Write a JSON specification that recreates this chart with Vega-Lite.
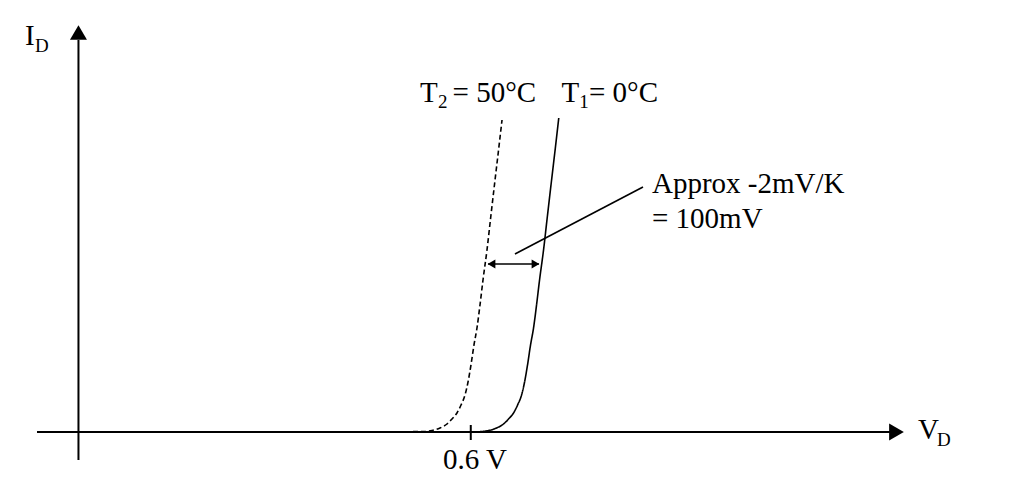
{
  "$schema": "https://vega.github.io/schema/vega-lite/v6.json",
  "width": 1020,
  "height": 482,
  "autosize": {"type": "none"},
  "padding": 0,
  "background": "white",
  "config": {"view": {"stroke": null}},
  "datasets": {
    "axes": [
      {"part": "I axis", "x": 0, "y": -0.56, "x2": 0, "y2": 7.84},
      {"part": "V axis", "x": -0.0634, "y": 0, "x2": 1.241, "y2": 0},
      {"part": "tick 0.6", "x": 0.6, "y": 0.14, "x2": 0.6, "y2": -0.16}
    ],
    "axisHeads": [
      {"dir": "up", "x": 0, "y": 7.99},
      {"dir": "right", "x": 1.2511, "y": 0}
    ],
    "curves": [
      {"series": "T2", "v": 0.5116, "i": 0.01},
      {"series": "T2", "v": 0.5300, "i": 0.01},
      {"series": "T2", "v": 0.5407, "i": 0.03},
      {"series": "T2", "v": 0.5529, "i": 0.08},
      {"series": "T2", "v": 0.5636, "i": 0.16},
      {"series": "T2", "v": 0.5713, "i": 0.26},
      {"series": "T2", "v": 0.5789, "i": 0.38},
      {"series": "T2", "v": 0.5851, "i": 0.54},
      {"series": "T2", "v": 0.5912, "i": 0.74},
      {"series": "T2", "v": 0.5958, "i": 1.00},
      {"series": "T2", "v": 0.6003, "i": 1.34},
      {"series": "T2", "v": 0.6049, "i": 1.74},
      {"series": "T2", "v": 0.6095, "i": 2.08},
      {"series": "T2", "v": 0.6141, "i": 2.54},
      {"series": "T2", "v": 0.6187, "i": 3.04},
      {"series": "T2", "v": 0.6248, "i": 3.64},
      {"series": "T2", "v": 0.6309, "i": 4.34},
      {"series": "T2", "v": 0.6371, "i": 5.04},
      {"series": "T2", "v": 0.6416, "i": 5.54},
      {"series": "T2", "v": 0.6478, "i": 6.24},
      {"series": "T1", "v": 0.5990, "i": 0.00},
      {"series": "T1", "v": 0.6165, "i": 0.01},
      {"series": "T1", "v": 0.6272, "i": 0.03},
      {"series": "T1", "v": 0.6394, "i": 0.08},
      {"series": "T1", "v": 0.6501, "i": 0.16},
      {"series": "T1", "v": 0.6578, "i": 0.26},
      {"series": "T1", "v": 0.6654, "i": 0.38},
      {"series": "T1", "v": 0.6716, "i": 0.54},
      {"series": "T1", "v": 0.6777, "i": 0.74},
      {"series": "T1", "v": 0.6823, "i": 1.00},
      {"series": "T1", "v": 0.6868, "i": 1.34},
      {"series": "T1", "v": 0.6914, "i": 1.74},
      {"series": "T1", "v": 0.6960, "i": 2.08},
      {"series": "T1", "v": 0.7006, "i": 2.54},
      {"series": "T1", "v": 0.7052, "i": 3.04},
      {"series": "T1", "v": 0.7113, "i": 3.64},
      {"series": "T1", "v": 0.7174, "i": 4.34},
      {"series": "T1", "v": 0.7236, "i": 5.04},
      {"series": "T1", "v": 0.7281, "i": 5.54},
      {"series": "T1", "v": 0.7346, "i": 6.28}
    ],
    "dimension": [
      {"part": "shift", "x": 0.6263, "y": 3.36, "x2": 0.7043, "y2": 3.36},
      {"part": "leader", "x": 0.6676, "y": 3.56, "x2": 0.8634, "y2": 4.90}
    ],
    "dimHeads": [
      {"dir": "left", "x": 0.6317, "y": 3.36},
      {"dir": "right", "x": 0.6990, "y": 3.36}
    ],
    "labels": [
      {"text": "I", "x": -0.0818, "y": 7.74},
      {"text": "T", "x": 0.5223, "y": 6.6},
      {"text": "= 50°C", "x": 0.5721, "y": 6.6},
      {"text": "T", "x": 0.7388, "y": 6.6},
      {"text": "= 0°C", "x": 0.7808, "y": 6.6},
      {"text": "Approx -2mV/K", "x": 0.8772, "y": 4.78},
      {"text": "= 100mV", "x": 0.8772, "y": 4.08},
      {"text": "V", "x": 1.284, "y": -0.14},
      {"text": "0.6 V", "x": 0.5575, "y": -0.74}
    ],
    "subscripts": [
      {"text": "D", "x": -0.0665, "y": 7.6},
      {"text": "2", "x": 0.5497, "y": 6.48},
      {"text": "1", "x": 0.7660, "y": 6.48},
      {"text": "D", "x": 1.313, "y": -0.28}
    ]
  },
  "layer": [
    {
      "data": {"name": "axes"},
      "mark": {"type": "rule", "color": "black", "strokeWidth": 2},
      "encoding": {
        "x": {"field": "x", "type": "quantitative", "scale": {"domain": [-0.12, 1.44], "nice": false, "zero": false}, "axis": null},
        "y": {"field": "y", "type": "quantitative", "scale": {"domain": [-1, 8.64], "nice": false, "zero": false}, "axis": null},
        "x2": {"field": "x2"},
        "y2": {"field": "y2"}
      }
    },
    {
      "data": {"name": "axisHeads"},
      "mark": {"type": "point", "filled": true, "color": "black", "opacity": 1, "size": 289},
      "encoding": {
        "x": {"field": "x", "type": "quantitative", "scale": {"domain": [-0.12, 1.44], "nice": false, "zero": false}, "axis": null},
        "y": {"field": "y", "type": "quantitative", "scale": {"domain": [-1, 8.64], "nice": false, "zero": false}, "axis": null},
        "shape": {"field": "dir", "type": "nominal", "scale": {"domain": ["up", "right", "left"], "range": ["triangle-up", "triangle-right", "triangle-left"]}, "legend": null}
      }
    },
    {
      "data": {"name": "curves"},
      "mark": {"type": "line", "color": "black", "strokeWidth": 1.6, "interpolate": "monotone"},
      "encoding": {
        "x": {"field": "v", "type": "quantitative", "scale": {"domain": [-0.12, 1.44], "nice": false, "zero": false}, "axis": null},
        "y": {"field": "i", "type": "quantitative", "scale": {"domain": [-1, 8.64], "nice": false, "zero": false}, "axis": null},
        "strokeDash": {"field": "series", "type": "nominal", "scale": {"domain": ["T1", "T2"], "range": [[1, 0], [5, 3]]}, "legend": null},
        "order": {"field": "v", "type": "quantitative"}
      }
    },
    {
      "data": {"name": "dimension"},
      "mark": {"type": "rule", "color": "black", "strokeWidth": 1.6},
      "encoding": {
        "x": {"field": "x", "type": "quantitative", "scale": {"domain": [-0.12, 1.44], "nice": false, "zero": false}, "axis": null},
        "y": {"field": "y", "type": "quantitative", "scale": {"domain": [-1, 8.64], "nice": false, "zero": false}, "axis": null},
        "x2": {"field": "x2"},
        "y2": {"field": "y2"}
      }
    },
    {
      "data": {"name": "dimHeads"},
      "mark": {"type": "point", "filled": true, "color": "black", "opacity": 1, "size": 80},
      "encoding": {
        "x": {"field": "x", "type": "quantitative", "scale": {"domain": [-0.12, 1.44], "nice": false, "zero": false}, "axis": null},
        "y": {"field": "y", "type": "quantitative", "scale": {"domain": [-1, 8.64], "nice": false, "zero": false}, "axis": null},
        "shape": {"field": "dir", "type": "nominal", "scale": {"domain": ["up", "right", "left"], "range": ["triangle-up", "triangle-right", "triangle-left"]}, "legend": null}
      }
    },
    {
      "data": {"name": "labels"},
      "mark": {"type": "text", "font": "Liberation Serif", "fontSize": 29, "align": "left", "baseline": "alphabetic", "color": "black"},
      "encoding": {
        "x": {"field": "x", "type": "quantitative", "scale": {"domain": [-0.12, 1.44], "nice": false, "zero": false}, "axis": null},
        "y": {"field": "y", "type": "quantitative", "scale": {"domain": [-1, 8.64], "nice": false, "zero": false}, "axis": null},
        "text": {"field": "text", "type": "nominal"}
      }
    },
    {
      "data": {"name": "subscripts"},
      "mark": {"type": "text", "font": "Liberation Serif", "fontSize": 19, "align": "left", "baseline": "alphabetic", "color": "black"},
      "encoding": {
        "x": {"field": "x", "type": "quantitative", "scale": {"domain": [-0.12, 1.44], "nice": false, "zero": false}, "axis": null},
        "y": {"field": "y", "type": "quantitative", "scale": {"domain": [-1, 8.64], "nice": false, "zero": false}, "axis": null},
        "text": {"field": "text", "type": "nominal"}
      }
    }
  ]
}
